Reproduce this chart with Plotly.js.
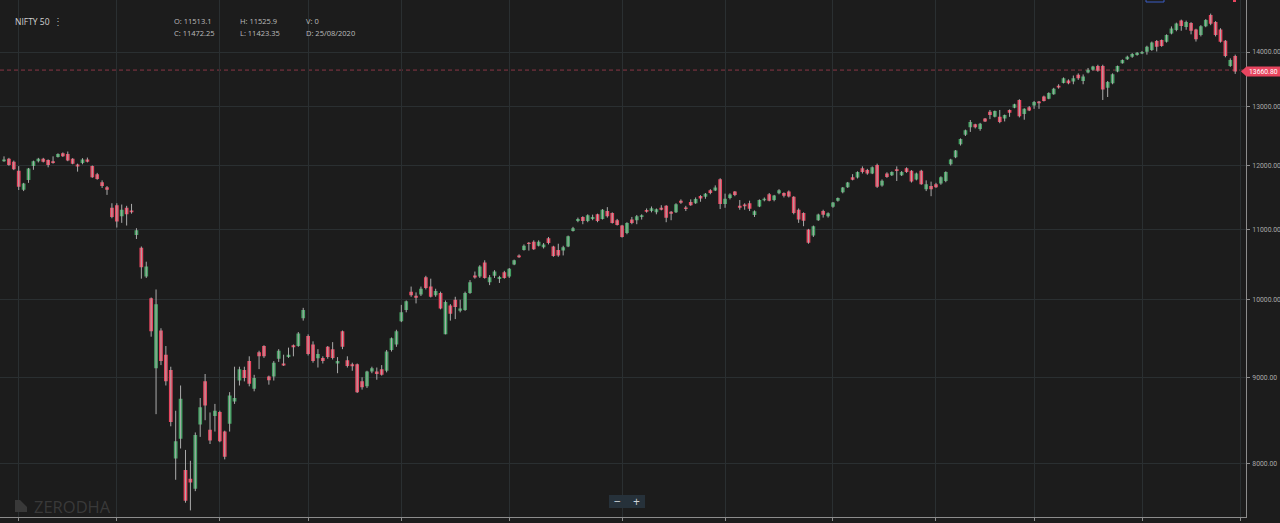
<!DOCTYPE html>
<html>
<head>
<meta charset="utf-8">
<script src="https://cdn.plot.ly/plotly-3.0.1.min.js"></script>
<style>
html,body{margin:0;padding:0;background:#1c1c1c;overflow:hidden}
#chart{width:1280px;height:523px}
</style>
</head>
<body>
<div id="chart"></div>
<script>
// ---------- DATA ----------
const symbol = 'NIFTY 50';
const hoverDate = '2020-08-25';
const hoverVolume = 0;
const priceLine = 13660.80;
const yTicks = [8000, 9000, 10000, 11000, 12000, 13000, 14000];

const dates = [
 '2020-01-29','2020-01-30','2020-01-31',
 '2020-02-01','2020-02-03','2020-02-04','2020-02-05','2020-02-06','2020-02-07','2020-02-10','2020-02-11','2020-02-12','2020-02-13','2020-02-14','2020-02-17','2020-02-18','2020-02-19','2020-02-20','2020-02-24','2020-02-25','2020-02-26','2020-02-27','2020-02-28',
 '2020-03-02','2020-03-03','2020-03-04','2020-03-05','2020-03-06','2020-03-09','2020-03-11','2020-03-12','2020-03-13','2020-03-16','2020-03-17','2020-03-18','2020-03-19','2020-03-20','2020-03-23','2020-03-24','2020-03-25','2020-03-26','2020-03-27','2020-03-30','2020-03-31',
 '2020-04-01','2020-04-03','2020-04-07','2020-04-08','2020-04-09','2020-04-13','2020-04-15','2020-04-16','2020-04-17','2020-04-20','2020-04-21','2020-04-22','2020-04-23','2020-04-24','2020-04-27','2020-04-28','2020-04-29','2020-04-30',
 '2020-05-04','2020-05-05','2020-05-06','2020-05-07','2020-05-08','2020-05-11','2020-05-12','2020-05-13','2020-05-14','2020-05-15','2020-05-18','2020-05-19','2020-05-20','2020-05-21','2020-05-22','2020-05-26','2020-05-27','2020-05-28','2020-05-29',
 '2020-06-01','2020-06-02','2020-06-03','2020-06-04','2020-06-05','2020-06-08','2020-06-09','2020-06-10','2020-06-11','2020-06-12','2020-06-15','2020-06-16','2020-06-17','2020-06-18','2020-06-19','2020-06-22','2020-06-23','2020-06-24','2020-06-25','2020-06-26','2020-06-29','2020-06-30',
 '2020-07-01','2020-07-02','2020-07-03','2020-07-06','2020-07-07','2020-07-08','2020-07-09','2020-07-10','2020-07-13','2020-07-14','2020-07-15','2020-07-16','2020-07-17','2020-07-20','2020-07-21','2020-07-22','2020-07-23','2020-07-24','2020-07-27','2020-07-28','2020-07-29','2020-07-30','2020-07-31',
 '2020-08-03','2020-08-04','2020-08-05','2020-08-06','2020-08-07','2020-08-10','2020-08-11','2020-08-12','2020-08-13','2020-08-14','2020-08-17','2020-08-18','2020-08-19','2020-08-20','2020-08-21','2020-08-24','2020-08-25','2020-08-26','2020-08-27','2020-08-28','2020-08-31',
 '2020-09-01','2020-09-02','2020-09-03','2020-09-04','2020-09-07','2020-09-08','2020-09-09','2020-09-10','2020-09-11','2020-09-14','2020-09-15','2020-09-16','2020-09-17','2020-09-18','2020-09-21','2020-09-22','2020-09-23','2020-09-24','2020-09-25','2020-09-28','2020-09-29','2020-09-30',
 '2020-10-01','2020-10-05','2020-10-06','2020-10-07','2020-10-08','2020-10-09','2020-10-12','2020-10-13','2020-10-14','2020-10-15','2020-10-16','2020-10-19','2020-10-20','2020-10-21','2020-10-22','2020-10-23','2020-10-26','2020-10-27','2020-10-28','2020-10-29','2020-10-30',
 '2020-11-02','2020-11-03','2020-11-04','2020-11-05','2020-11-06','2020-11-09','2020-11-10','2020-11-11','2020-11-12','2020-11-13','2020-11-14','2020-11-17','2020-11-18','2020-11-19','2020-11-20','2020-11-23','2020-11-24','2020-11-25','2020-11-26','2020-11-27',
 '2020-12-01','2020-12-02','2020-12-03','2020-12-04','2020-12-07','2020-12-08','2020-12-09','2020-12-10','2020-12-11','2020-12-14','2020-12-15','2020-12-16','2020-12-17','2020-12-18','2020-12-21','2020-12-22','2020-12-23','2020-12-24','2020-12-28','2020-12-29','2020-12-30','2020-12-31',
 '2021-01-01','2021-01-04','2021-01-05','2021-01-06','2021-01-07','2021-01-08','2021-01-11','2021-01-12','2021-01-13','2021-01-14','2021-01-15','2021-01-18','2021-01-19','2021-01-20','2021-01-21','2021-01-22','2021-01-25','2021-01-27','2021-01-28','2021-01-29'
];

const open = [
 12070,12110,12060,
 11915,11610,11766,11990,12070,12110,12090,12070,12140,12200,12190,12110,12015,12040,12100,11990,11860,11730,11650,11330,
 11370,11200,11330,11290,10920,10730,10320,10020,9110,9590,9280,9090,8060,8280,7935,7840,7735,8440,8950,8380,8540,
 8585,8360,8450,8710,8960,9090,9200,8860,9310,9390,9010,9010,9230,9170,9250,9400,9390,9750,
 9520,9410,9235,9240,9380,9350,9170,9580,9210,9160,9160,8950,8890,9070,9070,9100,9080,9340,9410,
 9710,9860,10110,10055,10070,10310,10180,10060,10090,9540,9920,10000,9850,9860,10090,10335,10320,10520,10240,10330,10285,10380,
 10320,10490,10620,10700,10805,10820,10760,10740,10870,10750,10700,10690,10750,10980,11130,11190,11130,11160,11230,11160,11280,11250,11140,
 11060,10950,11150,11140,11190,11295,11280,11260,11330,11360,11268,11260,11440,11335,11420,11400,11513.1,11500,11605,11600,11777,
 11387,11480,11583,11360,11380,11400,11220,11350,11445,11540,11449,11555,11560,11582,11503,11300,11250,11000,10910,11140,11280,11200,
 11345,11440,11570,11650,11810,11805,11955,11925,11870,12010,11680,11870,11840,11940,11840,11955,11915,11775,11915,11620,11670,
 11700,11710,11750,12020,12135,12350,12510,12640,12690,12610,12790,12910,12820,12820,12790,12940,12980,13117,12870,12990,
 13020,13090,13180,13140,13220,13375,13425,13470,13450,13575,13460,13615,13665,13735,13735,13338,13420,13633,13790,13863,13910,13943,
 13972,14006,14040,14210,14230,14195,14357,14423,14610,14485,14565,14437,14325,14500,14722,14585,14437,14216,13736,13925
];

const high = [
 12150,12125,12080,
 11990,11720,11960,12080,12125,12125,12100,12150,12200,12215,12230,12120,12030,12120,12130,12000,11880,11760,11670,11400,
 11400,11380,11360,11390,11020,10750,10530,10030,10140,9620,9390,9130,8600,8900,8154,8035,8350,8750,9040,8580,8680,
 8600,8370,8820,9130,9130,9130,9260,9030,9330,9400,9020,9200,9350,9280,9370,9410,9570,9890,
 9540,9450,9350,9260,9390,9440,9250,9590,9260,9180,9170,9000,9080,9130,9120,9150,9340,9500,9600,
 9930,9990,10180,10100,10180,10330,10290,10150,10110,9990,9940,10040,10000,10110,10270,10390,10480,10550,10340,10410,10330,10400,
 10440,10560,10635,10780,10815,10840,10840,10800,10890,10760,10790,10760,10910,11040,11180,11200,11230,11225,11240,11310,11340,11260,11160,
 11070,11110,11190,11220,11230,11320,11350,11320,11370,11370,11280,11400,11460,11360,11460,11490,11525.9,11560,11620,11680,11794,
 11550,11555,11590,11450,11400,11440,11290,11460,11490,11560,11530,11620,11570,11600,11510,11320,11260,11010,11060,11240,11300,11260,
 11420,11490,11655,11735,11860,11905,11985,11945,11985,12030,11775,11890,11905,11985,11910,11970,11925,11885,11930,11760,11740,
 11720,11825,11905,12110,12255,12450,12600,12765,12700,12715,12800,12940,12930,12940,12860,12950,13050,13130,12970,13010,
 13100,13100,13195,13255,13335,13400,13525,13490,13560,13600,13580,13700,13740,13760,13760,13460,13600,13745,13860,13930,13980,14000,
 14020,14120,14200,14230,14240,14340,14495,14570,14630,14610,14580,14450,14520,14640,14750,14600,14460,14230,13880,13950
];

const low = [
 12060,11995,11925,
 11607,11590,11720,11930,12050,12050,11970,12030,12130,12140,12070,12020,11900,12020,12050,11800,11770,11640,11530,11170,
 11030,11100,11060,11240,10860,10290,10300,9510,8560,9150,8900,8420,7830,8170,7590,7511,7710,8300,8490,8220,8360,
 8240,8050,8360,8680,8900,8950,8890,8830,9100,9240,8910,8960,9190,9140,9240,9260,9380,9720,
 9270,9180,9120,9170,9230,9220,9050,9350,9120,9080,8810,8850,8870,9050,8970,9020,9060,9320,9380,
 9700,9830,10040,9950,10050,10140,10030,10040,9870,9540,9720,9740,9830,9850,10080,10290,10300,10290,10200,10300,10230,10290,
 10300,10480,10585,10690,10690,10700,10750,10720,10780,10600,10600,10620,10740,10970,11110,11080,11110,11140,11110,11150,11180,11090,11060,
 10880,10930,11080,11080,11150,11255,11260,11230,11290,11110,11140,11250,11390,11280,11360,11390,11423.35,11470,11540,11590,11310,
 11330,11460,11510,11300,11300,11280,11190,11340,11430,11430,11430,11540,11490,11490,11230,11100,11050,10790,10890,11130,11180,11180,
 11330,11425,11555,11640,11760,11790,11870,11850,11860,11640,11660,11800,11830,11750,11830,11880,11725,11760,11690,11590,11510,
 11640,11690,11730,12000,12120,12330,12490,12560,12620,12580,12730,12780,12810,12710,12740,12820,12970,12810,12770,12920,
 12960,12960,13090,13130,13210,13320,13415,13400,13400,13480,13400,13600,13650,13630,13117,13170,13400,13620,13780,13850,13890,13930,
 13960,13950,14020,14010,14100,14180,14340,14400,14410,14430,14340,14200,14300,14480,14520,14300,14180,13900,13720,13590
];

const close = [
 12100,12010,11940,
 11660,11710,11950,12070,12110,12060,12010,12040,12190,12150,12080,12030,11985,12100,12060,11810,11780,11670,11610,11190,
 11120,11300,11230,11260,10990,10450,10460,9580,9940,9200,8950,8470,8250,8740,7610,7800,8320,8640,8660,8260,8600,
 8250,8080,8780,8750,9100,8990,8920,8990,9260,9260,8965,9180,9330,9145,9280,9375,9550,9860,
 9290,9200,9290,9200,9250,9240,9200,9380,9140,9135,8820,8880,9070,9110,9040,9030,9320,9490,9580,
 9830,9980,10060,10025,10150,10160,10040,10120,9880,9970,9810,9900,9880,10090,10240,10305,10460,10300,10310,10390,10315,10300,
 10430,10550,10595,10760,10785,10710,10820,10780,10800,10610,10620,10740,10900,11020,11160,11130,11215,11190,11130,11300,11200,11100,11070,
 10890,11100,11100,11200,11214,11268,11322,11308,11300,11178,11240,11385,11408,11310,11371,11466,11472.25,11549,11559,11647,11388,
 11470,11535,11527,11330,11355,11317,11278,11449,11470,11440,11521,11605,11516,11505,11250,11153,11132,10805,11050,11227,11222,11248,
 11410,11480,11645,11725,11770,11895,11895,11870,11970,11660,11755,11815,11895,11912,11895,11895,11740,11870,11700,11700,11620,
 11650,11810,11895,12100,12245,12440,12590,12730,12640,12700,12740,12850,12920,12730,12850,12890,13040,12830,12960,12930,
 13080,13060,13100,13240,13320,13340,13510,13420,13510,13510,13540,13665,13725,13648,13305,13440,13585,13737,13850,13910,13962,13987,
 14000,14101,14180,14100,14115,14325,14455,14555,14504,14585,14410,14245,14500,14624,14550,14325,14195,13925,13849,13633
];

// ---------- STYLE ----------
const BG = '#1c1c1c';
const GRID = '#2a2f31';
const AXIS = '#8c8c8c';
const UP = '#43a062';
const DOWN = '#e8455f';
const WICK = '#ababab';
const FONT = 'Open Sans, Roboto, sans-serif';
const AXFONT = 'Roboto, Open Sans, sans-serif';

const W = 1280, H = 523;
const M = {l: 0, r: 34, t: 0, b: 6};
const pw = W - M.l - M.r, ph = H - M.t - M.b;
const yRange = [Math.log10(7444), Math.log10(15025)];
const xRange = [-0.8155, 253.2];
const px = x => x / pw;
const py = y => 1 - y / ph;

if ([open, high, low, close].some(a => a.length !== dates.length)) {
  console.error('length mismatch', dates.length, open.length, high.length, low.length, close.length);
}

const xi = dates.map((d, i) => i);

// month starts -> vertical grid
const monthStarts = [];
dates.forEach((d, i) => { if (i > 0 && d.slice(0, 7) !== dates[i - 1].slice(0, 7)) monthStarts.push(i); });
monthStarts.push(dates.length);

// wicks
const wx = [], wy = [];
dates.forEach((d, i) => { wx.push(i, i, null); wy.push(low[i], high[i], null); });

const traces = [
  {type: 'scatter', mode: 'lines', x: wx, y: wy, line: {color: WICK, width: 1}, hoverinfo: 'skip', connectgaps: false},
  {type: 'candlestick', x: xi, open: open, high: high, low: low, close: close,
   increasing: {line: {color: UP, width: 0}, fillcolor: UP},
   decreasing: {line: {color: DOWN, width: 0}, fillcolor: DOWN},
   whiskerwidth: 0, hoverinfo: 'skip'}
];

// header
const hi = dates.indexOf(hoverDate);
const dParts = hoverDate.split('-');
const dText = dParts[2] + '/' + dParts[1] + '/' + dParts[0];
const txt = (t, x, y, size, color, anchor) => ({
  text: t, xref: 'paper', yref: 'paper', x: px(x), y: py(y),
  xanchor: anchor || 'left', yanchor: 'middle', showarrow: false,
  font: {family: FONT, size: size, color: color}
});

const yPL = (Math.log10(priceLine) - yRange[0]) / (yRange[1] - yRange[0]);
const tagC = yPL - 1.5 / ph;
const tagH = 5 / ph;

const annotations = [
  txt(symbol, 13, 22, 8.5, '#d2d2d2'),
  txt('⋮', 58, 21, 10, '#b0b0b0', 'center'),
  txt('O: ' + open[hi], 172, 21, 7.5, '#bdbdbd'),
  txt('C: ' + close[hi], 172, 33, 7.5, '#bdbdbd'),
  txt('H: ' + high[hi], 238, 21, 7.5, '#bdbdbd'),
  txt('L: ' + low[hi], 238, 33, 7.5, '#bdbdbd'),
  txt('V: ' + hoverVolume, 304, 21, 7.5, '#bdbdbd'),
  txt('D: ' + dText, 304, 33, 7.5, '#bdbdbd'),
  txt('ZERODHA', 32, 506, 16.5, '#393939'),
  txt('−', 617, 501, 12, '#cfd4d8', 'center'),
  txt('+', 636, 501, 12, '#cfd4d8', 'center'),
  {text: priceLine.toFixed(2), xref: 'paper', yref: 'paper', x: px(1263), y: tagC,
   xanchor: 'center', yanchor: 'middle', showarrow: false,
   font: {family: AXFONT, size: 6.8, color: '#ffffff'}}
];

const shapes = [
  {type: 'line', xref: 'paper', yref: 'y', x0: 0, x1: 1, y0: priceLine, y1: priceLine,
   line: {color: '#8a3546', width: 1, dash: '4px,3px'}, layer: 'below'},
  {type: 'path', xref: 'paper', yref: 'paper',
   path: 'M' + px(1241) + ',' + tagC + ' L' + px(1246.5) + ',' + (tagC + tagH) + ' L' + px(1280) + ',' + (tagC + tagH) +
         ' L' + px(1280) + ',' + (tagC - tagH) + ' L' + px(1246.5) + ',' + (tagC - tagH) + ' Z',
   fillcolor: DOWN, line: {width: 0}},
  {type: 'rect', xref: 'paper', yref: 'paper', x0: px(609), x1: px(645), y0: py(508), y1: py(495),
   fillcolor: '#26313a', line: {width: 0}},
  {type: 'path', xref: 'paper', yref: 'paper',
   path: 'M' + px(15) + ',' + py(500) + ' L' + px(20) + ',' + py(500) + ' L' + px(27) + ',' + py(507) +
         ' L' + px(27) + ',' + py(512) + ' L' + px(15) + ',' + py(512) + ' Z',
   fillcolor: '#393939', line: {width: 0}},
  {type: 'rect', xref: 'paper', yref: 'paper', x0: px(1146), x1: px(1164), y0: py(2), y1: py(-8),
   fillcolor: 'rgba(0,0,0,0)', line: {color: '#3b5cc4', width: 1}},
  {type: 'rect', xref: 'paper', yref: 'paper', x0: px(1233), x1: px(1236), y0: py(2), y1: py(-2),
   fillcolor: DOWN, line: {width: 0}}
];

const layout = {
  width: W, height: H, margin: {l: M.l, r: M.r, t: M.t, b: M.b, pad: 0},
  paper_bgcolor: BG, plot_bgcolor: BG,
  showlegend: false, hovermode: false, dragmode: false,
  boxgap: 0.2, boxgroupgap: 0.05,
  xaxis: {
    type: 'linear', range: xRange, tickmode: 'array', tickvals: monthStarts,
    showticklabels: false, ticks: 'outside', ticklen: 3, tickcolor: AXIS,
    showgrid: true, gridcolor: GRID, gridwidth: 1, zeroline: false,
    showline: true, linecolor: AXIS, linewidth: 1,
    rangeslider: {visible: false}, fixedrange: true
  },
  yaxis: {
    type: 'log', side: 'right', range: yRange, tickmode: 'array', tickvals: yTicks,
    ticktext: yTicks.map(v => v.toFixed(2)),
    ticks: 'outside', ticklen: 3, tickcolor: AXIS, ticklabelstandoff: 1,
    tickfont: {family: AXFONT, size: 6.8, color: '#a8a8a8'},
    showgrid: true, gridcolor: GRID, gridwidth: 1, zeroline: false,
    showline: true, linecolor: AXIS, linewidth: 1, fixedrange: true
  },
  shapes: shapes,
  annotations: annotations
};

Plotly.newPlot('chart', traces, layout, {displayModeBar: false, staticPlot: true});
</script>
</body>
</html>
